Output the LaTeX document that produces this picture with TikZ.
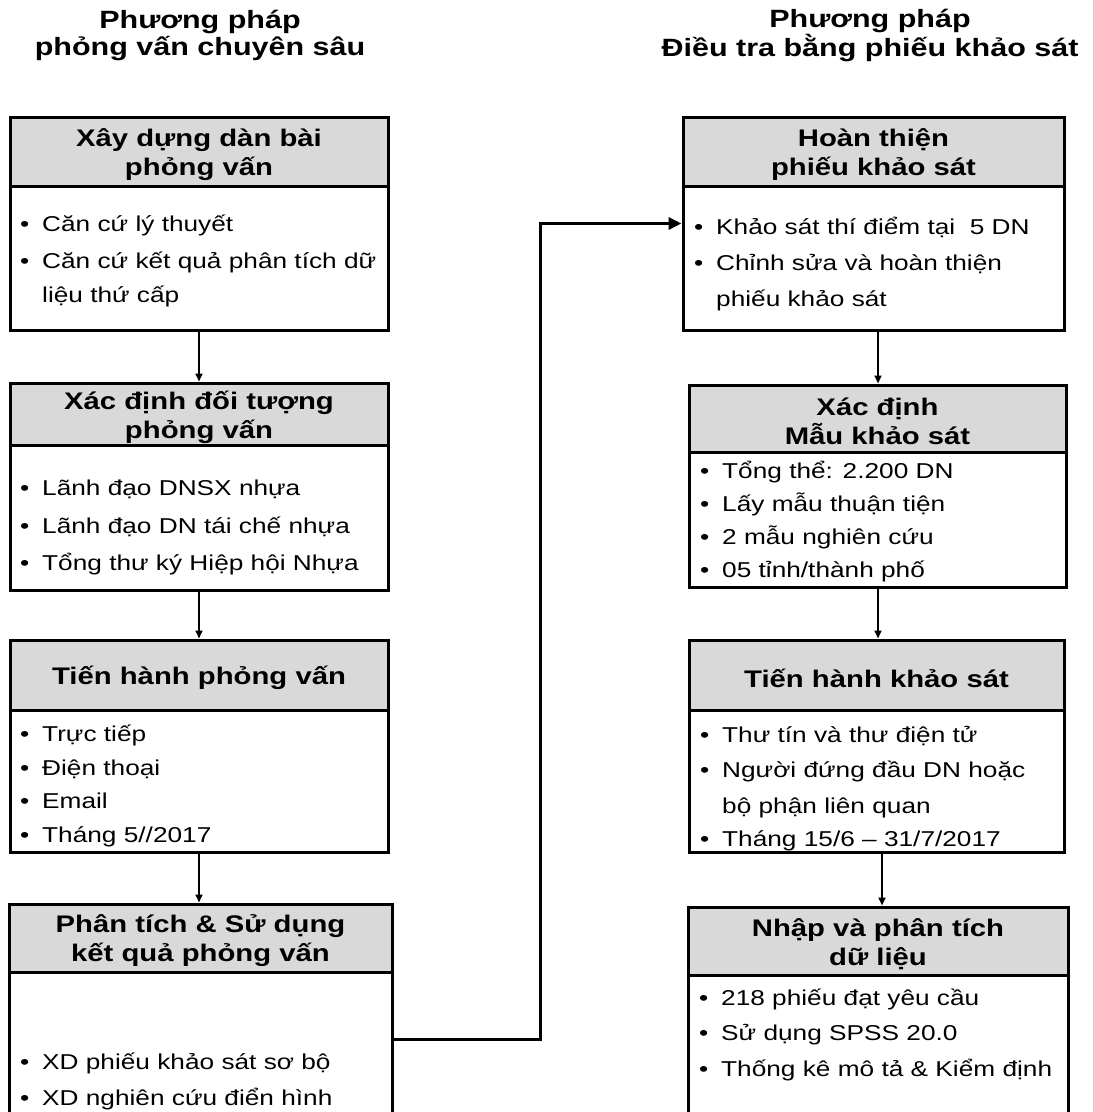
\documentclass[tikz,border=0pt]{standalone}
\usepackage{fontspec}
\setmainfont{Liberation Sans}[FakeStretch=1.22]
\usetikzlibrary{arrows.meta}

\definecolor{hdrgray}{RGB}{217,217,217}

\newcommand\titlefont{\bfseries\fontsize{25}{27.5}\selectfont}
\newcommand\hdrfont{\bfseries\fontsize{24}{29}\selectfont}
\newcommand\bodyfont{\fontsize{21.5}{26}\selectfont}

% one bulleted line and one continuation line of a box body
\newcommand\itemline[4]{\node[bodytxt] (#1) at (#2,#3) {\llap{•\hspace{13pt}}#4};}
\newcommand\contline[4]{\node[bodytxt] (#1) at (#2,#3) {#4};}

\tikzset{
  hdr/.style={draw, fill=hdrgray, line width=3pt, inner sep=0pt},
  hdrtxt/.style={align=center, inner sep=0pt, font=\hdrfont},
  bodybox/.style={draw, fill=white, line width=3pt, inner sep=0pt},
  bodytxt/.style={anchor=base west, inner sep=0pt, font=\bodyfont},
  ttl/.style={align=center, inner sep=0pt, font=\titlefont},
  arr/.style={line width=2pt, -{Triangle[length=8pt,width=7pt]}},
  longarr/.style={line width=3.5pt, -{Triangle[length=13pt,width=12pt]}},
}

\begin{document}
\begin{tikzpicture}[x=1pt,y=-1pt]
\useasboundingbox (0,0) rectangle (1093,1112);
\clip (0,0) rectangle (1093,1112);

% column titles
\node[ttl] (tl) at (200,35.5) {Phương pháp\\phỏng vấn chuyên sâu};
\node[ttl] (tr) at (870,35.5) {Phương pháp\\Điều tra bằng phiếu khảo sát};

% ---- left column: in-depth interviews ----
\node[bodybox, minimum width=378pt, minimum height=144pt] (b1) at (199,258) {};
\node[hdr, minimum width=378pt, minimum height=69pt] (h1) at (199,151.5) {};
\node[hdrtxt] (h1t) at ([yshift=-3pt]h1.center) {Xây dựng dàn bài\\phỏng vấn};
\itemline{b1a}{42}{231}{Căn cứ lý thuyết}
\itemline{b1b}{42}{268}{Căn cứ kết quả phân tích dữ}
\contline{b1c}{42}{302}{liệu thứ cấp}

\node[bodybox, minimum width=378pt, minimum height=145pt] (b2) at (199,517.5) {};
\node[hdr, minimum width=378pt, minimum height=62pt] (h2) at (199,414) {};
\node[hdrtxt] (h2t) at ([yshift=-3pt]h2.center) {Xác định đối tượng\\phỏng vấn};
\itemline{b2a}{42}{495}{Lãnh đạo DNSX nhựa}
\itemline{b2b}{42}{533}{Lãnh đạo DN tái chế nhựa}
\itemline{b2c}{42}{570}{Tổng thư ký Hiệp hội Nhựa}

\node[bodybox, minimum width=378pt, minimum height=142pt] (b3) at (199,781) {};
\node[hdr, minimum width=378pt, minimum height=70pt] (h3) at (199,675) {};
\node[hdrtxt] (h3t) at ([yshift=-3pt]h3.center) {Tiến hành phỏng vấn};
\itemline{b3a}{42}{741}{Trực tiếp}
\itemline{b3b}{42}{775}{Điện thoại}
\itemline{b3c}{42}{808}{Email}
\itemline{b3d}{42}{842}{Tháng 5//2017}

\node[bodybox, minimum width=383pt, minimum height=153pt] (b4) at (200.5,1048.5) {};
\node[hdr, minimum width=383pt, minimum height=68pt] (h4) at (200.5,938) {};
\node[hdrtxt] (h4t) at ([yshift=-3pt]h4.center) {Phân tích \& Sử dụng\\kết quả phỏng vấn};
\itemline{b4a}{42}{1069}{XD phiếu khảo sát sơ bộ}
\itemline{b4b}{42}{1105}{XD nghiên cứu điển hình}

% ---- right column: questionnaire survey ----
\node[bodybox, minimum width=381pt, minimum height=144pt] (r1) at (873.5,258) {};
\node[hdr, minimum width=381pt, minimum height=69pt] (g1) at (873.5,151.5) {};
\node[hdrtxt] (g1t) at ([yshift=-3pt]g1.center) {Hoàn thiện\\phiếu khảo sát};
\itemline{r1a}{716}{234}{Khảo sát thí điểm tại\ \ 5 DN}
\itemline{r1b}{716}{270}{Chỉnh sửa và hoàn thiện}
\contline{r1c}{716}{306}{phiếu khảo sát}

\node[bodybox, minimum width=377pt, minimum height=135pt] (r2) at (877.5,519.5) {};
\node[hdr, minimum width=377pt, minimum height=67pt] (g2) at (877.5,418.5) {};
\node[hdrtxt] (g2t) at ([yshift=-3pt]g2.center) {Xác định\\Mẫu khảo sát};
\itemline{r2a}{722}{478}{Tổng thể: 2.200 DN}
\itemline{r2b}{722}{511}{Lấy mẫu thuận tiện}
\itemline{r2c}{722}{544}{2 mẫu nghiên cứu}
\itemline{r2d}{722}{577}{05 tỉnh/thành phố}

\node[bodybox, minimum width=375pt, minimum height=142pt] (r3) at (876.5,781) {};
\node[hdr, minimum width=375pt, minimum height=70pt] (g3) at (876.5,675) {};
\node[hdrtxt] (g3t) at ([yshift=-3pt]g3.center) {Tiến hành khảo sát};
\itemline{r3a}{722}{742}{Thư tín và thư điện tử}
\itemline{r3b}{722}{777}{Người đứng đầu DN hoặc}
\contline{r3c}{722}{813}{bộ phận liên quan}
\itemline{r3d}{722}{846}{Tháng 15/6 – 31/7/2017}

\node[bodybox, minimum width=380pt, minimum height=150pt] (r4) at (878,1050) {};
\node[hdr, minimum width=380pt, minimum height=68pt] (g4) at (878,941) {};
\node[hdrtxt] (g4t) at ([yshift=-3pt]g4.center) {Nhập và phân tích\\dữ liệu};
\itemline{r4a}{721}{1005}{218 phiếu đạt yêu cầu}
\itemline{r4b}{721}{1040}{Sử dụng SPSS 20.0}
\itemline{r4c}{721}{1076}{Thống kê mô tả \& Kiểm định}

% ---- step arrows ----
\draw[arr] (b1.south) -- (h2.north);
\draw[arr] (b2.south) -- (h3.north);
\draw[arr] (b3.south) -- (b3.south |- h4.north);

\coordinate (ra) at ([xshift=4.5pt]r1.south);
\coordinate (rb) at ([xshift=0.5pt]r2.south);
\coordinate (rc) at ([xshift=5.5pt]r3.south);
\draw[arr] (ra) -- (ra |- g2.north);
\draw[arr] (rb) -- (rb |- g3.north);
\draw[arr] (rc) -- (rc |- g4.north);

% ---- link from the interview results to the questionnaire ----
\coordinate (lout) at ([yshift=-69pt]b4.north east);
\coordinate (rin) at ([yshift=-39pt]r1.north west);
\draw[longarr] (lout) -- ++(147,0) |- (rin);
\end{tikzpicture}
\end{document}
